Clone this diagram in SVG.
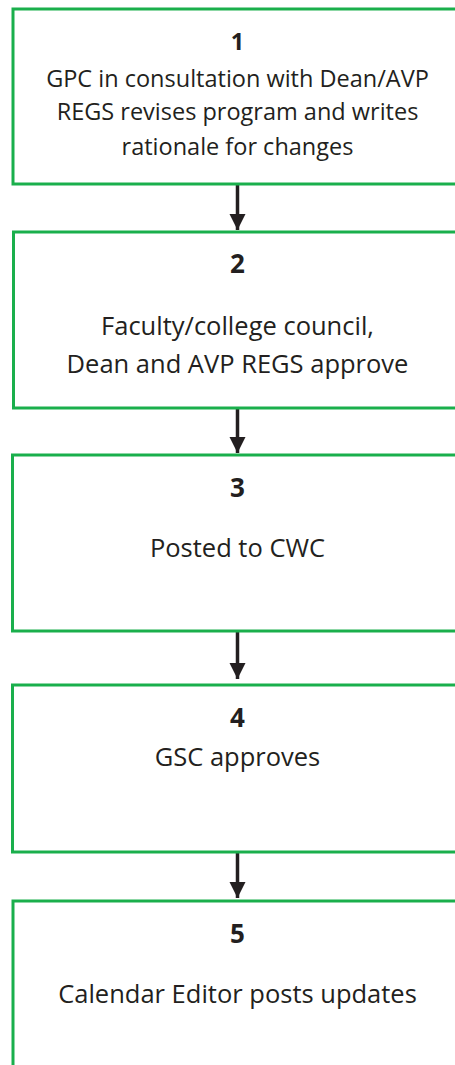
<svg xmlns="http://www.w3.org/2000/svg" width="455" height="1065" viewBox="0 0 455 1065">
<style>
.box{fill:#fff;stroke:#1aaf4c;stroke-width:3}
.num{font-family:"Open Sans","Liberation Sans",sans-serif;font-weight:bold;font-size:26px;fill:#231f20;text-anchor:middle}
.t{font-family:"Open Sans","Liberation Sans",sans-serif;font-size:25.5px;fill:#231f20;text-anchor:middle}
.s{font-size:23.5px}
.arr{stroke:#231f20;stroke-width:3.5;fill:none;marker-end:url(#ah)}
</style>
<defs>
<marker id="ah" markerUnits="userSpaceOnUse" markerWidth="18" markerHeight="18" refX="16" refY="8" orient="auto">
<path d="M0,0 L16,8 L0,16 Z" fill="#231f20"/>
</marker>
</defs>
<rect width="455" height="1065" fill="#fff"/>
<g id="connectors">
<line class="arr" x1="237.5" y1="185" x2="237.5" y2="230"/>
<line class="arr" x1="237.5" y1="409" x2="237.5" y2="453"/>
<line class="arr" x1="237.5" y1="632" x2="237.5" y2="679"/>
<line class="arr" x1="237.5" y1="853" x2="237.5" y2="898"/>
</g>
<g id="node1">
<rect class="box" x="13" y="9" width="470" height="175"/>
<text class="num s" x="237.5" y="50">1</text>
<text class="t s" x="237.5" y="87">GPC in consultation with Dean/AVP</text>
<text class="t s" x="237.5" y="120">REGS revises program and writes</text>
<text class="t s" x="237.5" y="155">rationale for changes</text>
</g>
<g id="node2">
<rect class="box" x="13.5" y="232" width="470" height="176"/>
<text class="num" x="237.5" y="273">2</text>
<text class="t" x="237.5" y="335">Faculty/college council,</text>
<text class="t" x="237.5" y="373">Dean and AVP REGS approve</text>
</g>
<g id="node3">
<rect class="box" x="12.5" y="455" width="470" height="176"/>
<text class="num" x="237.5" y="497">3</text>
<text class="t" x="237.5" y="557">Posted to CWC</text>
</g>
<g id="node4">
<rect class="box" x="12.5" y="685" width="470" height="167"/>
<text class="num" x="237.5" y="727">4</text>
<text class="t" x="237.5" y="766">GSC approves</text>
</g>
<g id="node5">
<rect class="box" x="13" y="901" width="470" height="200"/>
<text class="num" x="237.5" y="943">5</text>
<text class="t" x="237.5" y="1003">Calendar Editor posts updates</text>
</g>
</svg>
